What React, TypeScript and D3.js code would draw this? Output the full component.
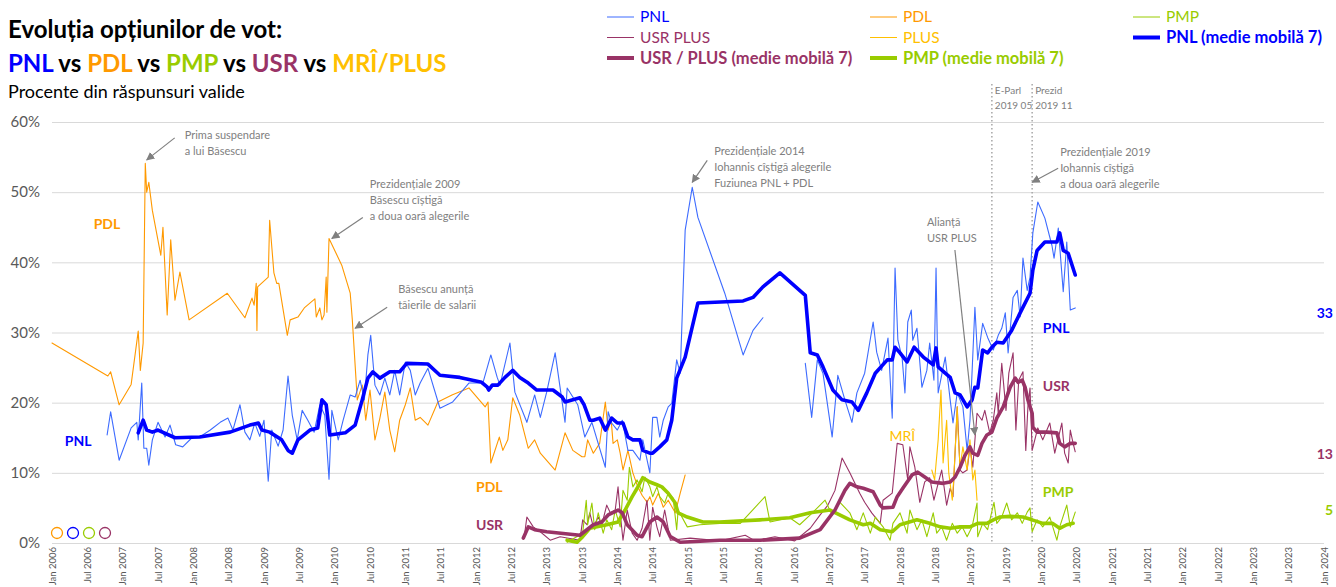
import { useEffect, useRef } from 'react';
import * as d3 from 'd3';

type Pt = [number, number | null];

// Dates are decimal years, values are % of valid answers.
const PNL_RAW: Pt[] = [
  [2006.78, 15.4], [2006.83, 18.7], [2006.95, 11.8], [2007.12, 16.4], [2007.2, 17.2], [2007.22, 14.7],
  [2007.27, 22.8], [2007.3, 13.5], [2007.34, 13.5], [2007.37, 11.1], [2007.42, 14.7], [2007.5, 17.2],
  [2007.6, 15.1], [2007.67, 16.8], [2007.75, 14.0], [2007.85, 13.7], [2007.98, 15.0], [2008.09, 15.1],
  [2008.24, 16.1], [2008.38, 17.2], [2008.49, 17.8], [2008.56, 16.1], [2008.66, 19.7], [2008.73, 15.8],
  [2008.8, 14.7], [2008.87, 17.1], [2008.94, 15.2], [2009.0, 17.5], [2009.06, 8.8], [2009.11, 16.1],
  [2009.2, 13.8], [2009.27, 16.1], [2009.34, 23.8], [2009.4, 18.2], [2009.47, 14.7], [2009.54, 18.9],
  [2009.62, 17.5], [2009.71, 15.8], [2009.79, 19.7], [2009.86, 18.2], [2009.92, 9.1], [2009.96, 18.9],
  [2010.05, 14.7], [2010.12, 17.5], [2010.22, 21.1], [2010.29, 20.8], [2010.36, 23.2], [2010.42, 20.4],
  [2010.47, 26.8], [2010.51, 29.6], [2010.57, 22.5], [2010.64, 21.1], [2010.71, 23.5], [2010.78, 21.1],
  [2010.85, 24.6], [2010.92, 21.1], [2011.0, 25.8], [2011.07, 24.6], [2011.14, 21.1], [2011.21, 22.8],
  [2011.32, 24.9], [2011.49, 19.2], [2011.67, 20.1], [2011.9, 22.8], [2012.01, 22.8], [2012.1, 22.9],
  [2012.21, 26.8], [2012.3, 23.6], [2012.34, 22.5], [2012.48, 28.5], [2012.55, 21.5], [2012.72, 17.2],
  [2012.83, 21.1], [2012.91, 17.9], [2013.0, 21.5], [2013.12, 27.1], [2013.26, 17.2], [2013.29, 22.1],
  [2013.44, 19.7], [2013.54, 15.1], [2013.64, 17.2], [2013.83, 10.8], [2013.87, 18.7], [2013.92, 17.1],
  [2014.0, 16.1], [2014.07, 17.5], [2014.15, 13.2], [2014.22, 13.2], [2014.32, 11.8], [2014.36, 14.7],
  [2014.46, 10.0], [2014.5, 17.9], [2014.56, 17.9], [2014.6, 15.1], [2014.65, 17.5], [2014.72, 19.4],
  [2014.77, 19.9], [2014.84, 26.1], [2014.89, 24.2], [2014.96, 44.6], [2015.06, 50.7], [2015.14, 46.4],
  [2015.52, 35.6], [2015.78, 26.8], [2015.92, 30.3], [2016.06, 32.1], [2016.36, null], [2016.66, 25.6],
  [2016.75, 17.9], [2016.83, 26.1], [2016.91, 24.2], [2017.04, 15.1], [2017.12, 23.9], [2017.22, 20.4],
  [2017.32, 17.2], [2017.39, 21.4], [2017.5, 24.2], [2017.62, 31.5], [2017.67, 27.2], [2017.74, 24.6],
  [2017.83, 29.2], [2017.89, 17.8], [2017.93, 39.2], [2017.97, 28.9], [2018.03, 26.4], [2018.07, 21.4],
  [2018.11, 31.5], [2018.16, 33.2], [2018.18, 28.9], [2018.24, 30.6], [2018.31, 22.2], [2018.38, 24.6],
  [2018.42, 28.5], [2018.48, 23.2], [2018.51, 39.2], [2018.54, 21.4], [2018.64, 26.5], [2018.71, 20.4],
  [2018.75, 17.1], [2018.81, 21.4], [2018.89, 19.4], [2018.95, 13.2], [2018.99, 17.5], [2019.06, 33.6],
  [2019.1, 26.1], [2019.17, 31.3], [2019.24, 29.3], [2019.32, 27.5], [2019.39, 29.6], [2019.44, 30.6],
  [2019.49, 32.8], [2019.53, 27.1], [2019.6, 35.0], [2019.66, 36.0], [2019.7, 32.2], [2019.74, 40.6],
  [2019.8, 36.0], [2019.84, 37.9], [2019.88, 44.2], [2019.95, 48.6], [2020.05, 46.3], [2020.15, 42.4],
  [2020.18, 40.6], [2020.24, 44.9], [2020.31, 35.8], [2020.36, 42.9], [2020.41, 33.2], [2020.48, 33.5],
];

const PNL_MA: Pt[] = [
  [2007.22, 15.7], [2007.29, 17.5], [2007.34, 16.1], [2007.42, 15.8], [2007.5, 16.1], [2007.74, 15.0],
  [2008.09, 15.1], [2008.52, 15.8], [2008.8, 16.8], [2008.92, 17.1], [2008.97, 16.1], [2009.08, 15.8],
  [2009.25, 14.7], [2009.34, 13.2], [2009.4, 12.8], [2009.48, 14.7], [2009.65, 16.1], [2009.76, 16.4],
  [2009.82, 20.4], [2009.88, 19.7], [2009.93, 15.4], [2010.15, 15.7], [2010.29, 16.8], [2010.39, 20.4],
  [2010.47, 23.5], [2010.54, 24.4], [2010.64, 23.5], [2010.78, 24.4], [2010.92, 24.4], [2011.02, 25.6],
  [2011.32, 25.5], [2011.49, 23.9], [2011.77, 23.6], [2012.08, 22.9], [2012.16, 22.2], [2012.18, 21.8],
  [2012.23, 22.5], [2012.31, 22.5], [2012.41, 23.6], [2012.52, 24.6], [2012.62, 23.6], [2012.74, 22.8],
  [2012.86, 21.8], [2012.98, 21.8], [2013.09, 21.8], [2013.22, 20.8], [2013.26, 20.1], [2013.47, 20.7],
  [2013.53, 19.7], [2013.61, 17.5], [2013.66, 17.5], [2013.75, 17.8], [2013.83, 16.1], [2013.92, 17.8],
  [2014.0, 17.1], [2014.08, 17.1], [2014.15, 15.1], [2014.22, 14.7], [2014.32, 14.7], [2014.36, 13.2],
  [2014.46, 12.8], [2014.5, 12.8], [2014.6, 13.7], [2014.7, 14.7], [2014.77, 17.5], [2014.84, 23.5],
  [2014.96, 26.5], [2015.06, 30.8], [2015.14, 34.2], [2015.78, 34.5], [2015.92, 35.0], [2016.06, 36.5],
  [2016.3, 38.5], [2016.66, 35.3], [2016.73, 27.1], [2016.83, 26.8], [2016.91, 25.1], [2017.05, 21.8],
  [2017.18, 20.4], [2017.32, 20.1], [2017.41, 18.9], [2017.53, 21.4], [2017.65, 24.2], [2017.82, 26.1],
  [2017.89, 26.1], [2017.93, 27.9], [2018.0, 27.1], [2018.1, 25.8], [2018.2, 27.9], [2018.33, 26.5],
  [2018.47, 25.4], [2018.51, 27.8], [2018.54, 25.1], [2018.64, 24.2], [2018.71, 23.6], [2018.78, 21.4],
  [2018.85, 21.1], [2018.95, 19.4], [2019.02, 20.4], [2019.06, 22.2], [2019.1, 22.1], [2019.17, 27.5],
  [2019.24, 27.1], [2019.3, 27.9], [2019.37, 28.6], [2019.46, 28.5], [2019.58, 30.3], [2019.7, 32.8],
  [2019.84, 35.6], [2019.88, 38.9], [2019.94, 41.7], [2020.05, 42.9], [2020.22, 42.9], [2020.26, 44.2],
  [2020.31, 41.7], [2020.38, 41.3], [2020.48, 38.2],
];

const PDL_RAW: Pt[] = [
  [2006.0, 28.5], [2006.79, 23.8], [2006.83, 24.4], [2006.95, 19.7], [2007.12, 22.6], [2007.22, 30.2],
  [2007.25, 24.6], [2007.29, 28.5], [2007.32, 54.1], [2007.34, 50.0], [2007.37, 51.4], [2007.42, 47.4],
  [2007.54, 41.0], [2007.57, 45.0], [2007.63, 32.5], [2007.68, 43.2], [2007.74, 34.6], [2007.81, 38.6],
  [2007.94, 31.8], [2008.48, 35.6], [2008.73, 32.1], [2008.83, 34.9], [2008.86, 33.9], [2008.89, 37.0],
  [2008.9, 30.3], [2008.91, 36.5], [2009.06, 37.9], [2009.08, 46.0], [2009.14, 38.5], [2009.18, 37.0],
  [2009.21, 37.0], [2009.33, 29.6], [2009.37, 31.8], [2009.48, 32.2], [2009.57, 33.5], [2009.72, 34.8],
  [2009.74, 32.2], [2009.79, 33.5], [2009.82, 31.8], [2009.85, 32.5], [2009.88, 37.9], [2009.89, 32.9],
  [2009.92, 43.4], [2010.1, 39.6], [2010.22, 35.6], [2010.25, 31.8], [2010.32, 20.4], [2010.39, 22.5],
  [2010.44, 17.5], [2010.5, 21.8], [2010.57, 14.7], [2010.64, 17.8], [2010.71, 21.5], [2010.78, 16.1],
  [2010.85, 13.0], [2010.92, 17.5], [2011.0, 19.7], [2011.07, 22.1], [2011.14, 17.5], [2011.21, 17.9],
  [2011.32, 16.8], [2011.46, 20.1], [2011.66, 21.1], [2011.9, 22.1], [2012.13, 19.4], [2012.17, 20.1],
  [2012.21, 11.4], [2012.33, 15.1], [2012.38, 13.2], [2012.45, 14.7], [2012.52, 20.7], [2012.62, 18.2],
  [2012.74, 13.5], [2012.83, 14.7], [2012.91, 12.8], [2013.12, 10.4], [2013.26, 15.7], [2013.37, 13.2],
  [2013.5, 12.3], [2013.54, 12.3], [2013.58, 14.7], [2013.66, 12.8], [2013.75, 14.2], [2013.83, 20.1],
  [2013.87, 16.1], [2013.91, 17.9], [2013.94, 14.2], [2014.0, 14.7], [2014.04, 12.8], [2014.08, 10.4],
  [2014.15, 13.2], [2014.22, 10.0], [2014.29, 8.0], [2014.35, 6.8], [2014.42, 5.8], [2014.46, 6.6],
  [2014.5, 5.4], [2014.58, 7.1], [2014.65, 5.1], [2014.72, 6.1], [2014.82, 4.3], [2014.89, 7.1],
  [2014.96, 9.7],
];

const USR_RAW: Pt[] = [
  [2012.69, 1.4], [2012.72, 3.7], [2012.81, 2.3], [2012.91, 1.6], [2013.05, 0.4], [2013.19, 0.9],
  [2013.47, 0.4], [2013.51, 3.3], [2013.57, 2.6], [2013.61, 4.3], [2013.66, 2.3], [2013.73, 3.7],
  [2013.78, 2.6], [2013.85, 5.4], [2013.9, 4.3], [2013.97, 4.7], [2014.01, 8.0], [2014.04, 4.3],
  [2014.08, 0.4], [2014.14, 4.7], [2014.21, 1.4], [2014.28, 0.4], [2014.35, 2.1], [2014.42, 6.1],
  [2014.46, 0.4], [2014.5, 5.1], [2014.56, 2.3], [2014.6, 0.9], [2014.67, 4.7], [2014.75, 0.4],
  [2015.03, 0.7], [2015.45, 0.3], [2015.81, 1.1], [2015.95, 0.3], [2016.23, 0.9], [2016.51, 0.3],
  [2016.73, 2.1], [2016.87, 4.0], [2016.98, 5.4], [2017.08, 7.5], [2017.18, 12.1], [2017.29, 10.0],
  [2017.43, 7.1], [2017.5, 5.8], [2017.6, 4.3], [2017.72, 2.8], [2017.76, 6.1], [2017.89, 7.1],
  [2017.96, 14.2], [2018.04, 14.0], [2018.11, 9.0], [2018.14, 13.7], [2018.21, 10.8], [2018.28, 5.8],
  [2018.35, 8.7], [2018.42, 9.3], [2018.48, 6.1], [2018.54, 8.5], [2018.59, 10.4], [2018.66, 5.4],
  [2018.71, 7.8], [2018.75, 6.6], [2018.81, 19.4], [2018.85, 10.4], [2018.89, 10.0], [2018.95, 10.4],
  [2018.99, 13.7], [2019.03, 10.8], [2019.09, 18.5], [2019.16, 17.5], [2019.2, 18.9], [2019.27, 15.7],
  [2019.32, 17.5], [2019.37, 21.4], [2019.39, 18.5], [2019.44, 25.6], [2019.5, 18.9], [2019.54, 24.2],
  [2019.6, 27.1], [2019.64, 16.1], [2019.68, 23.2], [2019.74, 24.4], [2019.78, 13.2], [2019.81, 19.4],
  [2019.84, 22.1], [2019.87, 13.2], [2019.95, 16.4], [2020.02, 14.7], [2020.12, 17.1], [2020.19, 12.8],
  [2020.29, 17.1], [2020.33, 12.8], [2020.38, 11.4], [2020.41, 16.1], [2020.45, 14.2], [2020.48, 13.0],
];

const USR_MA: Pt[] = [
  [2012.67, 0.7], [2012.74, 2.3], [2012.83, 1.9], [2013.0, 1.6], [2013.47, 1.1], [2013.66, 2.6],
  [2013.78, 3.0], [2013.87, 4.0], [2014.01, 4.7], [2014.07, 4.3], [2014.14, 2.6], [2014.28, 1.1],
  [2014.35, 0.9], [2014.46, 3.0], [2014.56, 3.7], [2014.65, 3.0], [2014.75, 0.9], [2014.89, 0.1],
  [2015.45, 0.4], [2016.02, 0.4], [2016.58, 0.7], [2016.87, 1.9], [2017.08, 4.7], [2017.22, 7.5],
  [2017.29, 8.5], [2017.39, 8.0], [2017.48, 7.8], [2017.62, 7.3], [2017.72, 5.4], [2017.76, 5.0],
  [2017.9, 5.1], [2017.96, 6.6], [2018.04, 7.8], [2018.17, 9.7], [2018.25, 10.1], [2018.35, 9.4],
  [2018.45, 8.7], [2018.61, 8.5], [2018.71, 8.7], [2018.78, 9.4], [2018.85, 10.8], [2018.92, 12.5],
  [2018.99, 13.7], [2019.03, 12.8], [2019.1, 12.5], [2019.16, 14.2], [2019.23, 15.4], [2019.3, 15.8],
  [2019.37, 17.8], [2019.46, 19.4], [2019.56, 22.2], [2019.63, 23.5], [2019.67, 22.9], [2019.73, 23.2],
  [2019.77, 22.2], [2019.81, 20.4], [2019.87, 18.5], [2019.88, 16.5], [2019.94, 15.8], [2020.08, 15.8],
  [2020.22, 15.7], [2020.26, 14.2], [2020.33, 13.7], [2020.41, 14.2], [2020.48, 14.2],
];

const PMP_RAW: Pt[] = [
  [2013.29, 0.1], [2013.51, 1.4], [2013.56, 6.1], [2013.58, 2.6], [2013.64, 5.7], [2013.68, 1.9],
  [2013.73, 4.3], [2013.8, 1.4], [2013.85, 3.3], [2013.92, 1.9], [2013.97, 4.7], [2014.04, 2.3],
  [2014.08, 7.5], [2014.14, 6.1], [2014.17, 10.8], [2014.22, 8.0], [2014.28, 9.0], [2014.35, 7.3],
  [2014.39, 9.4], [2014.46, 8.0], [2014.5, 6.6], [2014.56, 8.0], [2014.6, 6.6], [2014.67, 5.7],
  [2014.72, 7.1], [2014.79, 6.4], [2014.84, 1.9], [2014.86, 4.7], [2014.99, 2.3], [2015.17, 2.6],
  [2015.45, 2.8], [2015.74, 2.8], [2016.09, 6.6], [2016.16, 3.0], [2016.44, 3.6], [2016.58, 2.6],
  [2016.73, 4.0], [2016.94, 6.1], [2017.04, 4.0], [2017.15, 5.8], [2017.29, 4.3], [2017.39, 1.9],
  [2017.48, 4.3], [2017.58, 1.4], [2017.65, 3.7], [2017.76, 2.3], [2017.86, 0.4], [2017.9, 2.8],
  [2018.0, 4.3], [2018.1, 1.4], [2018.14, 4.7], [2018.24, 1.9], [2018.31, 3.3], [2018.38, 0.9],
  [2018.47, 4.3], [2018.52, 1.4], [2018.59, 2.3], [2018.66, 0.4], [2018.74, 2.8], [2018.81, 1.4],
  [2018.88, 2.3], [2018.95, 0.9], [2019.02, 2.3], [2019.09, 5.7], [2019.1, 0.9], [2019.17, 2.8],
  [2019.24, 1.9], [2019.33, 5.8], [2019.37, 2.8], [2019.44, 3.7], [2019.51, 5.7], [2019.58, 3.3],
  [2019.66, 4.3], [2019.73, 2.8], [2019.8, 4.4], [2019.84, 5.0], [2019.87, 1.6], [2019.94, 3.3],
  [2020.02, 2.3], [2020.12, 3.7], [2020.22, 0.4], [2020.26, 2.3], [2020.36, 5.4], [2020.41, 2.3],
  [2020.48, 4.4],
];

const PMP_MA: Pt[] = [
  [2013.29, 0.4], [2013.43, 0.1], [2013.51, 0.9], [2013.61, 2.1], [2013.85, 2.6], [2014.01, 3.0],
  [2014.11, 4.7], [2014.21, 6.6], [2014.28, 7.8], [2014.36, 9.3], [2014.46, 8.7], [2014.56, 8.3],
  [2014.63, 8.0], [2014.72, 7.1], [2014.82, 5.7], [2014.86, 4.3], [2014.99, 3.7], [2015.21, 3.0],
  [2015.45, 3.0], [2016.02, 3.3], [2016.44, 3.6], [2016.73, 4.3], [2017.01, 4.7], [2017.29, 3.3],
  [2017.48, 2.6], [2017.58, 2.8], [2017.72, 1.9], [2017.89, 1.6], [2018.0, 2.6], [2018.24, 3.3],
  [2018.42, 2.8], [2018.57, 2.3], [2018.71, 2.1], [2018.85, 2.3], [2018.99, 2.3], [2019.1, 2.8],
  [2019.23, 2.8], [2019.32, 3.3], [2019.41, 3.7], [2019.56, 3.8], [2019.74, 3.7], [2019.87, 3.3],
  [2020.02, 2.8], [2020.16, 2.8], [2020.26, 2.1], [2020.36, 2.6], [2020.45, 2.8],
];

const MRI_RAW: Pt[] = [
  [2018.45, 10.4], [2018.49, 9.0], [2018.54, 14.7], [2018.58, 21.8], [2018.61, 11.4], [2018.66, 17.5],
  [2018.69, 10.0], [2018.74, 6.1], [2018.76, 9.0], [2018.81, 19.4], [2018.82, 16.1], [2018.85, 10.8],
  [2018.89, 13.7], [2018.95, 10.4], [2018.99, 14.7], [2019.03, 9.0], [2019.06, 10.4], [2019.09, 6.1],
];

const Y_TICKS = [0, 10, 20, 30, 40, 50, 60];
const X_TICKS = d3.range(0, 37).map((i) => 2006 + i / 2);
const tickLabel = (t: number) => `${t % 1 === 0 ? 'Jan' : 'Jul'} ${Math.floor(t)}`;

// Election markers (dotted verticals)
const EVENTS = [
  { date: 2019.3, lines: ['E-Parl', '2019 05'] },
  { date: 2019.87, lines: ['Prezid', '2019 11'] },
];

// Latest values shown at the right edge
const LAST_VALUES = [
  { label: '33', value: 33, color: '#0000FF' },
  { label: '13', value: 13, color: '#993366' },
  { label: '5', value: 5, color: '#99CC00' },
];

const C = {
  pnl: '#0000FF',
  pnlThin: '#3D6BFF',
  pdl: '#FF9900',
  pmp: '#99CC00',
  usr: '#993366',
  plus: '#FFC000',
  grid: '#D9D9D9',
  axis: '#595959',
  note: '#808080',
};

const W = 1336;
const H = 587;
const MARGIN = { top: 122, right: 12, bottom: 44, left: 52 };
const FONT = 'Lato, "Open Sans", sans-serif';

export default function App() {
  const svgRef = useRef<SVGSVGElement>(null);

  useEffect(() => {
    const svg = d3.select(svgRef.current);
    svg.selectAll('*').remove();
    svg.style('font-family', FONT);

    const x = d3.scaleLinear().domain([2006, 2024]).range([MARGIN.left, W - MARGIN.right]);
    const y = d3.scaleLinear().domain([0, 60]).range([H - MARGIN.bottom, MARGIN.top]);

    const defs = svg.append('defs');
    defs
      .append('marker')
      .attr('id', 'arrow')
      .attr('viewBox', '0 0 10 10')
      .attr('refX', 9)
      .attr('refY', 5)
      .attr('markerWidth', 7)
      .attr('markerHeight', 7)
      .attr('orient', 'auto')
      .append('path')
      .attr('d', 'M0,0L10,5L0,10z')
      .attr('fill', C.note);

    // Titles ---------------------------------------------------------------
    svg
      .append('text')
      .attr('x', 8)
      .attr('y', 38)
      .attr('font-size', 24)
      .attr('font-weight', 700)
      .text('Evoluția opțiunilor de vot:');

    const t2 = svg
      .append('text')
      .attr('x', 8)
      .attr('y', 72)
      .attr('font-size', 24)
      .attr('font-weight', 700);
    [
      ['PNL', C.pnl], [' vs ', '#000'], ['PDL', C.pdl], [' vs ', '#000'], ['PMP', C.pmp],
      [' vs ', '#000'], ['USR', C.usr], [' vs ', '#000'], ['MRÎ/PLUS', C.plus],
    ].forEach(([s, c]) => t2.append('tspan').attr('fill', c).text(s));

    svg
      .append('text')
      .attr('x', 8)
      .attr('y', 98)
      .attr('font-size', 18)
      .text('Procente din răspunsuri valide');

    // Axes -----------------------------------------------------------------
    svg
      .append('g')
      .attr('transform', `translate(${MARGIN.left},0)`)
      .call(
        d3
          .axisLeft(y)
          .tickValues(Y_TICKS)
          .tickFormat((d) => `${d}%`)
          .tickSize(-(W - MARGIN.left - MARGIN.right))
          .tickPadding(12)
      )
      .call((g) => g.select('.domain').remove())
      .call((g) => g.selectAll('line').attr('stroke', C.grid))
      .call((g) => g.selectAll('text').attr('fill', C.axis).style('font-size', '15px').style('font-family', FONT));

    svg
      .append('g')
      .attr('transform', `translate(0,${H - MARGIN.bottom})`)
      .call(d3.axisBottom(x).tickValues(X_TICKS).tickFormat((d) => tickLabel(+d)).tickSize(0))
      .call((g) => g.select('.domain').remove())
      .selectAll('text')
      .attr('transform', 'rotate(-90)')
      .attr('text-anchor', 'end')
      .attr('x', -4)
      .attr('y', 0)
      .attr('dy', '0.35em')
      .attr('fill', C.axis)
      .style('font-size', '9.5px')
      .style('font-family', FONT);

    // Election markers -------------------------------------------------------
    for (const ev of EVENTS) {
      svg
        .append('line')
        .attr('x1', x(ev.date))
        .attr('x2', x(ev.date))
        .attr('y1', 84)
        .attr('y2', y(0))
        .attr('stroke', '#A6A6A6')
        .attr('stroke-width', 1.5)
        .attr('stroke-dasharray', '1.5 2.5');
      ev.lines.forEach((s, i) =>
        svg
          .append('text')
          .attr('x', x(ev.date) + 3)
          .attr('y', 94 + i * 15)
          .attr('font-size', 10)
          .attr('fill', C.note)
          .text(s)
      );
    }

    // Series -----------------------------------------------------------------
    const line = d3
      .line<Pt>()
      .defined((d) => d[1] != null)
      .x((d) => x(d[0]))
      .y((d) => y(d[1] as number));

    const plot = [
      { data: PDL_RAW, color: C.pdl, w: 1.1 },
      { data: USR_RAW, color: C.usr, w: 1.1 },
      { data: PMP_RAW, color: C.pmp, w: 1.1 },
      { data: MRI_RAW, color: C.plus, w: 1.1 },
      { data: PNL_RAW, color: C.pnlThin, w: 1.1 },
      { data: PMP_MA, color: C.pmp, w: 3.6 },
      { data: USR_MA, color: C.usr, w: 3.6 },
      { data: PNL_MA, color: C.pnl, w: 3.6 },
    ];
    for (const s of plot) {
      svg
        .append('path')
        .datum(s.data)
        .attr('d', line)
        .attr('fill', 'none')
        .attr('stroke', s.color)
        .attr('stroke-width', s.w)
        .attr('stroke-linejoin', 'round')
        .attr('stroke-linecap', 'round');
    }

    // Annotations ------------------------------------------------------------
    const notes = [
      { at: [2007.34, 54.6], tail: [28, -22], text: [38, -25], lines: ['Prima suspendare', 'a lui Băsescu'] },
      { at: [2009.96, 43.4], tail: [31, -21], text: [38, -54], lines: ['Prezidențiale 2009', 'Băsescu cîștigă', 'a doua oară alegerile'] },
      { at: [2010.29, 30.6], tail: [32, -21], text: [43, -39], lines: ['Băsescu anunță', 'tăierile de salarii'] },
      { at: [2015.06, 51.4], tail: [15, -22], text: [22, -31], lines: ['Prezidențiale 2014', 'Iohannis cîștigă alegerile', 'Fuziunea PNL + PDL'] },
      { at: [2019.06, 15.4], tail: [-20, -185], text: [-48, -213], lines: ['Alianță', 'USR PLUS'] },
      { at: [2019.87, 51.4], tail: [26, -14], text: [28, -30], lines: ['Prezidențiale 2019', 'Iohannis cîștigă', 'a doua oară alegerile'] },
    ];
    for (const n of notes) {
      const px = x(n.at[0]);
      const py = y(n.at[1]);
      svg
        .append('line')
        .attr('x1', px + n.tail[0])
        .attr('y1', py + n.tail[1])
        .attr('x2', px)
        .attr('y2', py)
        .attr('stroke', C.note)
        .attr('stroke-width', 1.2)
        .attr('marker-end', 'url(#arrow)');
      n.lines.forEach((s, i) =>
        svg
          .append('text')
          .attr('x', px + n.text[0])
          .attr('y', py + n.text[1] + i * 16)
          .attr('dy', '0.35em')
          .attr('font-size', 11)
          .attr('fill', C.note)
          .text(s)
      );
    }

    // In-plot series labels ----------------------------------------------------
    const tags = [
      { s: 'PDL', c: C.pdl, at: [2006.59, 45.4], bold: true },
      { s: 'PNL', c: C.pnl, at: [2006.18, 14.5], bold: true },
      { s: 'PDL', c: C.pdl, at: [2012.0, 7.9], bold: true },
      { s: 'USR', c: C.usr, at: [2012.0, 2.6], bold: true },
      { s: 'MRÎ', c: C.plus, at: [2017.85, 15.3], bold: false },
      { s: 'PNL', c: C.pnl, at: [2020.02, 30.6], bold: true },
      { s: 'USR', c: C.usr, at: [2020.02, 22.4], bold: true },
      { s: 'PMP', c: C.pmp, at: [2020.02, 7.3], bold: true },
    ];
    for (const t of tags) {
      svg
        .append('text')
        .attr('x', x(t.at[0]))
        .attr('y', y(t.at[1]))
        .attr('dy', '0.35em')
        .attr('font-size', 14)
        .attr('font-weight', t.bold ? 700 : 400)
        .attr('fill', t.c)
        .text(t.s);
    }

    for (const v of LAST_VALUES) {
      svg
        .append('text')
        .attr('x', W - 3)
        .attr('y', y(v.value) + 2)
        .attr('dy', '0.35em')
        .attr('text-anchor', 'end')
        .attr('font-size', 14)
        .attr('font-weight', 700)
        .attr('fill', v.color)
        .text(v.label);
    }

    // Small outlined circles, bottom-left
    [C.pdl, C.pnl, C.pmp, C.usr].forEach((c, i) =>
      svg
        .append('circle')
        .attr('cx', x(2006) + 5 + i * 16)
        .attr('cy', y(0) - 10)
        .attr('r', 5.5)
        .attr('fill', 'none')
        .attr('stroke', c)
        .attr('stroke-width', 1.3)
    );

    // Legend -------------------------------------------------------------------
    const legend = [
      { s: 'PNL', c: C.pnlThin, tc: C.pnl, w: 1, col: 0, row: 0, bold: false },
      { s: 'PDL', c: C.pdl, tc: C.pdl, w: 1, col: 1, row: 0, bold: false },
      { s: 'PMP', c: C.pmp, tc: C.pmp, w: 1, col: 2, row: 0, bold: false },
      { s: 'USR PLUS', c: C.usr, tc: C.usr, w: 1, col: 0, row: 1, bold: false },
      { s: 'PLUS', c: C.plus, tc: C.plus, w: 1, col: 1, row: 1, bold: false },
      { s: 'PNL (medie mobilă 7)', c: C.pnl, tc: C.pnl, w: 4, col: 2, row: 1, bold: true },
      { s: 'USR / PLUS (medie mobilă 7)', c: C.usr, tc: C.usr, w: 4, col: 0, row: 2, bold: true },
      { s: 'PMP (medie mobilă 7)', c: C.pmp, tc: C.pmp, w: 4, col: 1, row: 2, bold: true },
    ];
    const colX = [607, 870, 1133];
    for (const l of legend) {
      const lx = colX[l.col];
      const ly = 17 + l.row * 20.5;
      svg
        .append('line')
        .attr('x1', lx)
        .attr('x2', lx + 27)
        .attr('y1', ly)
        .attr('y2', ly)
        .attr('stroke', l.c)
        .attr('stroke-width', l.w);
      svg
        .append('text')
        .attr('x', lx + 33)
        .attr('y', ly)
        .attr('dy', '0.35em')
        .attr('font-size', l.bold ? 16.5 : 15.5)
        .attr('font-weight', l.bold ? 700 : 400)
        .attr('fill', l.tc)
        .text(l.s);
    }
  }, []);

  return (
    <svg
      ref={svgRef}
      width={W}
      height={H}
      style={{ position: 'absolute', left: 0, top: 0, background: '#fff' }}
    />
  );
}
